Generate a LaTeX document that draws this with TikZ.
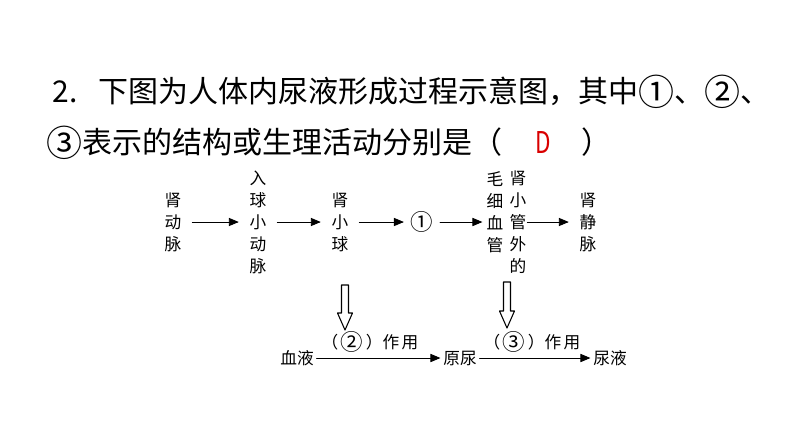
\documentclass[tikz,border=0pt]{standalone}
\usepackage{fontspec}
\setmainfont{Noto Sans CJK SC}
\usetikzlibrary{arrows}
\newcommand{\circnum}[2][1.35]{\raisebox{-0.1em}{\scalebox{#1}{#2}}}

\begin{document}
\begin{tikzpicture}[line cap=round,line join=round,>=triangle 45,x=0.75pt,y=-0.75pt,
  vtext/.style={align=center,inner xsep=8pt,inner ysep=0pt,font=\fontsize{12.5}{16.5}\selectfont},
  htext/.style={inner xsep=2pt,inner ysep=0pt,font=\fontsize{12.5}{15}\selectfont},
  flow/.style={->,line width=0.7pt},
  hollow/.style={line width=0.8pt,fill=white}]
\useasboundingbox (0,0) rectangle (794,447);
% question
\node[anchor=west,font=\fontsize{22.5}{24}\selectfont] (q1) at (48,92) {2.\hspace{0.7em}下图为人体内尿液形成过程示意图，其中\circnum[1.2]{①}、\circnum[1.2]{②}、};
\node[anchor=west,font=\fontsize{22.5}{24}\selectfont] (q2) at (42,143) {\circnum[1.2]{③}表示的结构或生理活动分别是（\hspace{1.1em}\textcolor{red!85!black}{\scalebox{0.75}[1]{D}}\hspace{1em}）};
% top row
\node[vtext] (sdm) at (173,222) {肾\\动\\脉};
\node[vtext] (rqx) at (258,222) {入\\球\\小\\动\\脉};
\node[vtext] (sxq) at (340,222) {肾\\小\\球};
\node[vtext,inner xsep=5pt] (o1) at (422,222) {\circnum{①}};
\node[vtext,inner xsep=3pt] (mxg) at (495,212) {毛\\细\\血\\管};
\node[vtext] (swd) at (518,222) {肾\\小\\管\\外\\的};
\node[vtext] (sjm) at (588,222) {肾\\静\\脉};
\draw[flow] (sdm) -- (rqx);
\draw[flow] (rqx) -- (sxq);
\draw[flow] (sxq) -- (o1);
\draw[flow] (o1) -- (o1 -| mxg.west);
\draw[flow] ([xshift=7]swd.center) -- (sjm);
% hollow arrows
\draw[hollow] (341.5,285) -- (348.5,285) -- (348.5,313) -- (352.5,313) -- (345,330) -- (337.5,313) -- (341.5,313) -- cycle;
\draw[hollow] (503.5,282) -- (510.5,282) -- (510.5,311) -- (514.5,311) -- (507,328) -- (499.5,311) -- (503.5,311) -- cycle;
% bottom row
\node[htext] (xy) at (297,358) {血液};
\node[htext] (yn) at (460,358) {原尿};
\node[htext] (nyx) at (610,358) {尿液};
\draw[flow] (xy) -- (yn);
\draw[flow] (yn) -- (nyx);
\node[htext] (l2) at (370,342) {（\hspace{0.15em}\circnum{②}\hspace{0.15em}）作\hspace{0.15em}用};
\node[htext] (l3) at (532,342) {（\hspace{0.15em}\circnum{③}\hspace{0.15em}）作\hspace{0.15em}用};
\end{tikzpicture}
\end{document}
